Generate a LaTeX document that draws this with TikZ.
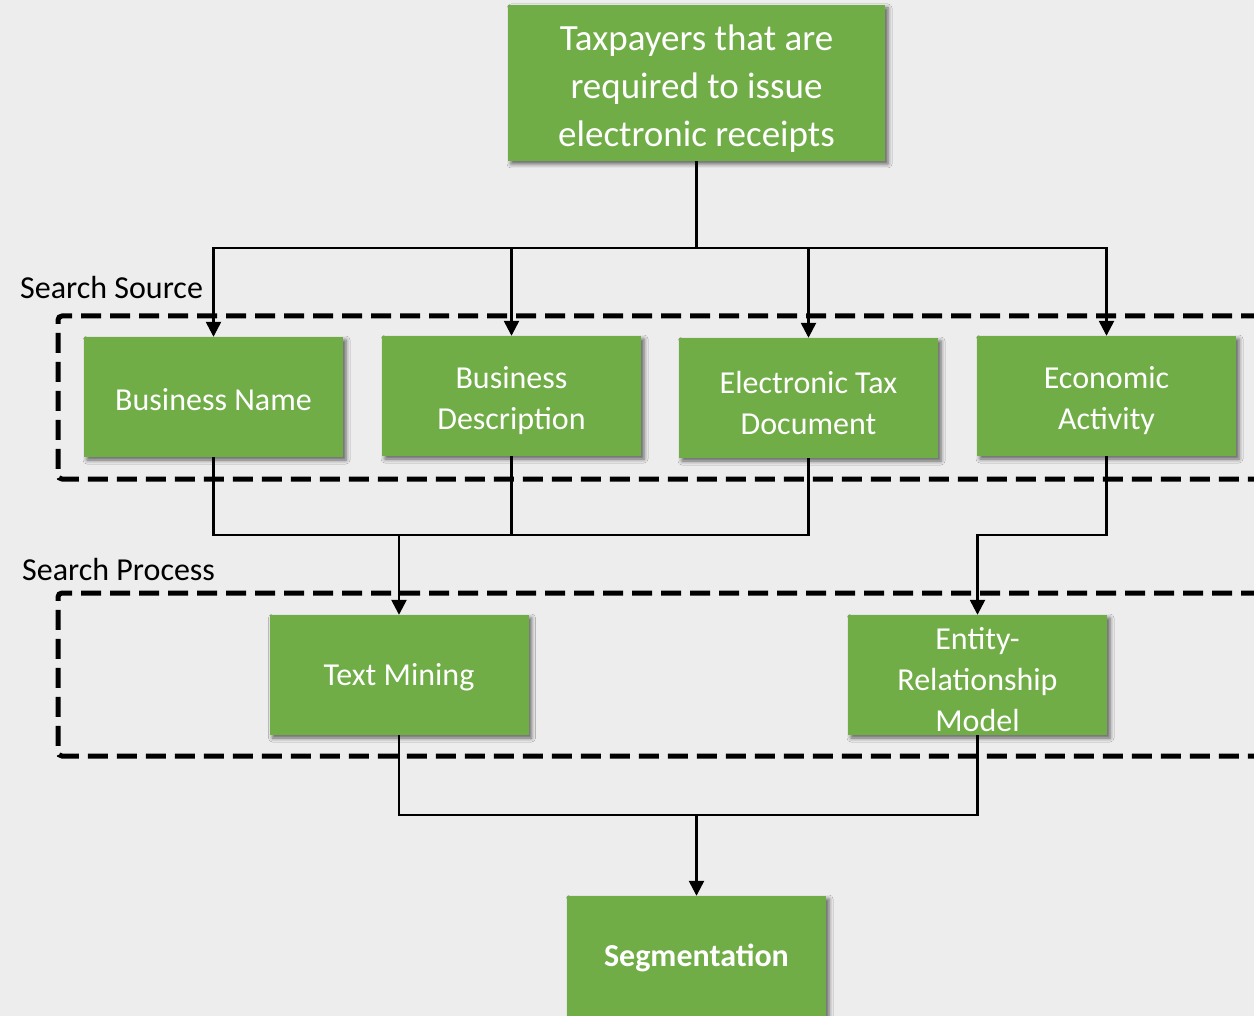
\documentclass[tikz,border=0pt]{standalone}
\usepackage{fontspec}
\setmainfont{Carlito}
\usetikzlibrary{arrows.meta,shadows.blur}
\definecolor{bg}{HTML}{EDEDED}
\definecolor{grn}{HTML}{70AD47}
\newcommand\liftfirst{\rule{0pt}{1em}}
\begin{document}
\begin{tikzpicture}[x=1pt,y=-1pt,
  box/.style={fill=grn, text=white, font=\fontsize{32}{41}\selectfont, align=center,
    inner sep=0pt, minimum width=259pt, minimum height=120pt,
    execute at begin node={\rule{0pt}{0.83em}},
    blur shadow={shadow xshift=3pt, shadow yshift=-3pt, shadow blur radius=4pt, shadow opacity=60}},
  conn/.style={line width=2.5pt, black},
  arr/.style={conn, -{Triangle[width=15pt,length=15pt]}},
  grp/.style={line width=5pt, dash pattern=on 20pt off 9pt, rounded corners=4pt},
  lbl/.style={anchor=west, font=\fontsize{32}{38}\selectfont, text=black, inner sep=0pt}]
\clip (0,0) rectangle (1254,1016);
\fill[bg] (0,0) rectangle (1254,1016);

% groups
\draw[grp] (1290,316) -- (58,316) -- (58,479) -- (1290,479);
\draw[grp] (1290,593) -- (58,593) -- (58,756) -- (1290,756);
\node[lbl] (lss) at (20,288) {Search Source};
\node[lbl] (lsp) at (22,570) {Search Process};

% boxes
\node[box, minimum width=377pt, minimum height=156pt, font=\fontsize{37}{48}\selectfont] (top) at (696.5,83)
  {\liftfirst Taxpayers that are\\required to issue\\electronic receipts};
\node[box] (bn)  at (213.5,397) {Business Name};
\node[box] (bd)  at (511.5,396) {\liftfirst Business\\Description};
\node[box] (etd) at (808.5,398) {\liftfirst Electronic Tax\\Document};
\node[box] (ea)  at (1106.5,396) {\liftfirst Economic\\Activity};
\node[box] (tm)  at (399,675) {Text Mining};
\node[box] (erm) at (977.5,675) {\liftfirst Entity-\\Relationship\\Model};
\node[box, font=\fontsize{32}{41}\selectfont\bfseries] (seg) at (696.5,956) {Segmentation};

% connectors
\coordinate (j1) at (696.5,248);
\draw[conn] (top.south) -- (j1);
\draw[arr] (j1) -| (bn.north);
\draw[arr] (j1) -| (bd.north);
\draw[arr] (j1) -| (etd.north);
\draw[arr] (j1) -| (ea.north);

\coordinate (j2) at (399,535);
\draw[conn] (bn.south) |- (j2) -| (etd.south);
\draw[conn] (bd.south) -- (bd.south |- j2);
\draw[arr] (j2) -- (tm.north);

\coordinate (j3) at (977.5,535);
\draw[arr] (ea.south) |- (j3) -- (erm.north);

\coordinate (j4) at (696.5,815);
\draw[conn] (tm.south) |- (j4) -| (erm.south);
\draw[arr] (j4) -- (seg.north);
\end{tikzpicture}
\end{document}
